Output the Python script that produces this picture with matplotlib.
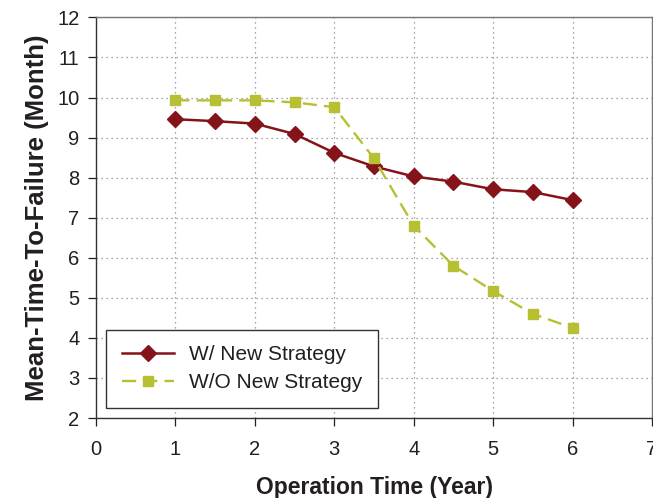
import matplotlib
matplotlib.use("Agg")
import matplotlib.pyplot as plt

plt.rcParams['font.family'] = ['Liberation Sans', 'DejaVu Sans']

years = [1, 1.5, 2, 2.5, 3, 3.5, 4, 4.5, 5, 5.5, 6]
mttf_new = [9.46, 9.41, 9.35, 9.09, 8.62, 8.28, 8.03, 7.90, 7.71, 7.64, 7.44]
mttf_old = [9.93, 9.93, 9.93, 9.88, 9.76, 8.48, 6.80, 5.80, 5.17, 4.60, 4.25]

red = '#85141a'
green = '#b7c032'
ink = '#231f20'

fig = plt.figure(figsize=(6.53, 4.98), dpi=100)
ax = fig.add_axes([0.147, 0.1606, 0.8515, 0.8044])

ax.plot(years, mttf_new, color=red, lw=1.8, marker='D', ms=8,
        label='W/ New Strategy')
ax.plot(years, mttf_old, color=green, lw=1.7, ls=(0, (6, 3)), marker='s',
        ms=7.5, label='W/O New Strategy')

ax.set_xlim(0, 7)
ax.set_ylim(2, 12)
ax.set_xticks(range(0, 8))
ax.set_yticks(range(2, 13))
ax.grid(True, color='#888888', ls=(0, (1, 3)), lw=0.9)
ax.tick_params(direction='out', length=6, width=0.9, labelsize=14.5,
               colors=ink, pad=6)
ax.tick_params(axis='x', pad=10)

for side in ['left', 'bottom']:
    ax.spines[side].set_color('#333333')
    ax.spines[side].set_linewidth(1.0)
for side in ['top', 'right']:
    ax.spines[side].set_color('#777777')
    ax.spines[side].set_linewidth(1.0)

ax.set_xlabel('Operation Time (Year)', fontsize=16.5, fontweight='bold',
              color=ink, labelpad=12)
ax.set_ylabel('Mean-Time-To-Failure (Month)', fontsize=18.5,
              fontweight='bold', color=ink, labelpad=6)

leg = ax.legend(loc='lower left', fontsize=15, fancybox=False, framealpha=1,
                edgecolor='#333333', borderaxespad=0.5, handlelength=2.5,
                handletextpad=0.7, labelspacing=0.42, borderpad=0.75)
leg.get_frame().set_linewidth(1.0)
for t in leg.get_texts():
    t.set_color(ink)

fig.savefig('out.png', dpi=100)
